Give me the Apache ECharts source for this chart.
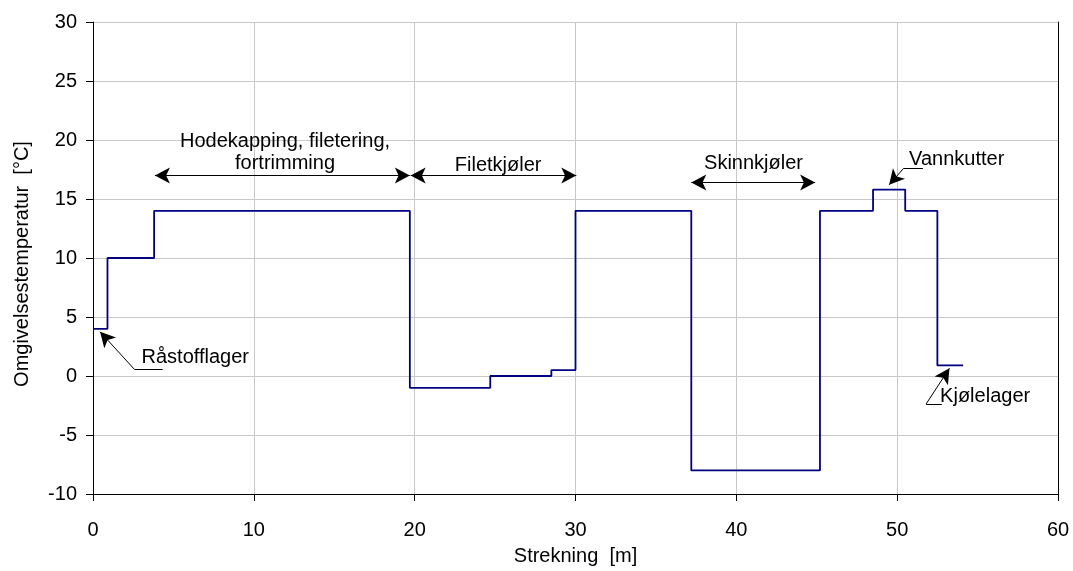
<!DOCTYPE html>
<html><head><meta charset="utf-8">
<script src="https://cdn.jsdelivr.net/npm/echarts@6/dist/echarts.min.js"></script>
<style>html,body{margin:0;padding:0;background:#fff}#c{width:1073px;height:571px}</style>
</head><body><div id="c"></div>
<script>
// Step profile: distance (m) where each level starts, and the temperature level (°C)
const stepX = [0, 0.9, 3.8, 19.7, 24.7, 28.5, 30.0, 37.2, 45.2, 48.5, 50.5, 52.5, 54.1];
const stepY = [4, 10, 14, -1, 0, 0.5, 14, -8, 14, 15.8, 14, 0.9, 0.9];
const xTicks = [0, 10, 20, 30, 40, 50, 60];
const yTicks = [-10, -5, 0, 5, 10, 15, 20, 25, 30];

// Annotations (data units)
const spanArrows = [
  {from: [3.85, 17.0], to: [19.7, 17.0]},
  {from: [19.75, 17.0], to: [30.05, 17.0]},
  {from: [37.2, 16.4], to: [44.9, 16.4]}
];
const spanLabels = [
  {pos: [11.94, 18.98], text: 'Hodekapping, filetering,\nfortrimming'},
  {pos: [25.19, 17.8], text: 'Filetkjøler'},
  {pos: [41.07, 17.97], text: 'Skinnkjøler'}
];
// leader polylines: [text end, elbow, arrow tip]
const leaders = [
  {pts: [[4.33, 0.57], [2.57, 0.57], [0.44, 3.75]], text: 'Råstofflager', tpos: [6.36, 1.6]},
  {pts: [[51.6, 17.6], [50.4, 17.6], [49.5, 16.2]], text: 'Vannkutter', tpos: [53.7, 18.35]},
  {pts: [[52.78, -2.37], [51.8, -2.37], [53.25, 0.65]], text: 'Kjølelager', tpos: [55.47, -1.72]}
];

const lineData = stepX.map((x, i) => [x, stepY[i]]);
const FONT = 'Liberation Sans, Arial, sans-serif';

const markLines = [];
spanArrows.forEach(a => {
  markLines.push([{coord: a.from, symbol: 'arrow'}, {coord: a.to, symbol: 'arrow'}]);
});
leaders.forEach(l => {
  markLines.push([{coord: l.pts[0], symbol: 'none'}, {coord: l.pts[1], symbol: 'none'}]);
  markLines.push([{coord: l.pts[1], symbol: 'none'}, {coord: l.pts[2], symbol: 'arrow'}]);
});
const markPoints = spanLabels.map(s => ({coord: s.pos, label: {formatter: s.text}}))
  .concat(leaders.map(l => ({coord: l.tpos, label: {formatter: l.text}})));

const chart = echarts.init(document.getElementById('c'), null, {renderer: 'canvas'});
chart.setOption({
  animation: false,
  backgroundColor: '#fff',
  grid: {left: 93, right: 15, top: 22, bottom: 77, containLabel: false},
  xAxis: {
    type: 'value', min: 0, max: 60, interval: 10,
    name: 'Strekning  [m]', nameLocation: 'middle', nameGap: 52,
    nameTextStyle: {fontFamily: FONT, fontSize: 20, color: '#000'},
    axisLine: {show: true, onZero: false, lineStyle: {color: '#000', width: 1}},
    axisTick: {show: true, length: 7, lineStyle: {color: '#000'}},
    axisLabel: {fontFamily: FONT, fontSize: 20, color: '#000', margin: 26},
    splitLine: {show: true, lineStyle: {color: '#c8c8c8', width: 1}}
  },
  yAxis: [{
    type: 'value', min: -10, max: 30, interval: 5,
    name: 'Omgivelsestemperatur  [°C]', nameLocation: 'middle', nameGap: 61,
    nameTextStyle: {fontFamily: FONT, fontSize: 20, color: '#000', padding: [0, 12, 0, 0]},
    axisLine: {show: true, onZero: false, lineStyle: {color: '#000', width: 1}},
    axisTick: {show: true, length: 7, lineStyle: {color: '#000'}},
    axisLabel: {fontFamily: FONT, fontSize: 20, color: '#000', margin: 16},
    splitLine: {show: true, lineStyle: {color: '#c8c8c8', width: 1}}
  }, {
    type: 'value', min: -10, max: 30, interval: 5, position: 'right',
    axisLine: {show: true, onZero: false, lineStyle: {color: '#000', width: 1}},
    axisTick: {show: false}, axisLabel: {show: false}, splitLine: {show: false}
  }],
  series: [{
    type: 'line', step: 'end', data: lineData, showSymbol: false, symbol: 'none',
    lineStyle: {color: '#000080', width: 1.8},
    markLine: {
      silent: true, symbolSize: [12, 15], precision: 4,
      lineStyle: {color: '#000', width: 1, type: 'solid'},
      label: {show: false},
      data: markLines
    },
    markPoint: {
      silent: true, symbol: 'circle', symbolSize: 0,
      label: {show: true, position: 'inside', fontFamily: FONT, fontSize: 20, color: '#000', lineHeight: 22, align: 'center'},
      data: markPoints
    }
  }]
});
</script></body></html>
